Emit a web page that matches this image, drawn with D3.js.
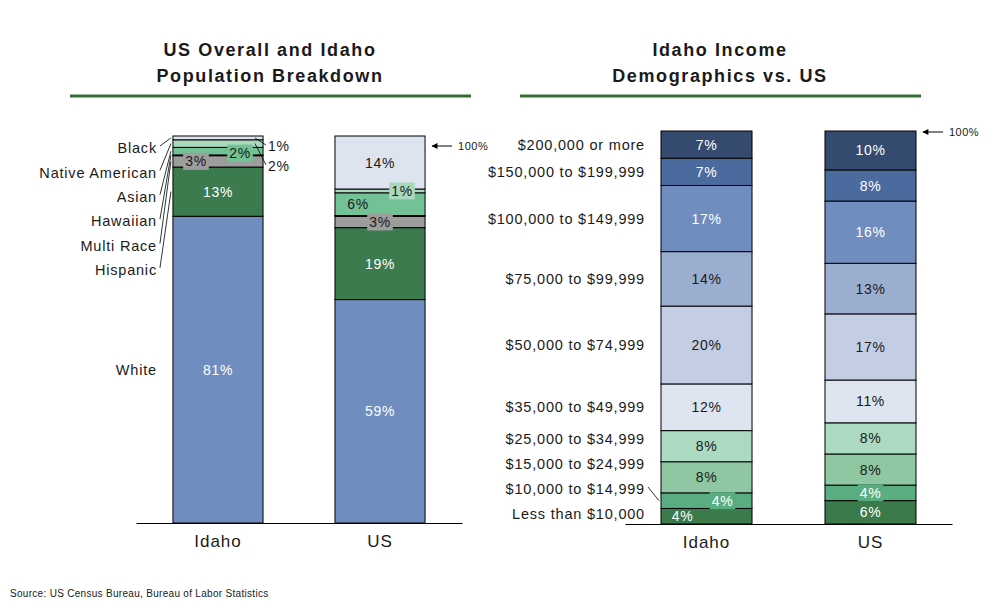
<!DOCTYPE html>
<html>
<head>
<meta charset="utf-8">
<script src="https://cdn.jsdelivr.net/npm/d3@7"></script>
<style>
    body { margin: 0; background: #ffffff; }
    text { font-family: Arial, "Liberation Sans", sans-serif; fill: #1a1a1a; }
</style>
</head>
<body>
<script>

// canvas size
var canvasX = 1008;
var canvasY = 610;

// population breakdown, stack order from the bottom up
var raceGroups = ["Idaho", "US"];
var raceCats = ["White", "Hispanic", "Multi Race", "Hawaiian", "Asian", "Native American", "Black"];
var raceIdaho = [81, 13, 3, 0.2, 2, 2, 1];
var raceUS = [59, 19, 3, 0.2, 6, 1, 14];
var raceColors = ["#6f8ebf", "#3b7b4e", "#9d9d9d", "#111111", "#72c296", "#a9d8be", "#dee4ef"];
var raceText = ["#ffffff", "#ffffff", "#1a1a1a", "#1a1a1a", "#1a1a1a", "#1a1a1a", "#1a1a1a"];

// income demographics, stack order from the bottom up
var incomeGroups = ["Idaho", "US"];
var incomeCats = ["Less than $10,000", "$10,000 to $14,999", "$15,000 to $24,999",
                  "$25,000 to $34,999", "$35,000 to $49,999", "$50,000 to $74,999",
                  "$75,000 to $99,999", "$100,000 to $149,999", "$150,000 to $199,999",
                  "$200,000 or more"];
var incomeIdaho = [4, 4, 8, 8, 12, 20, 14, 17, 7, 7];
var incomeUS = [6, 4, 8, 8, 11, 17, 13, 16, 8, 10];
var incomeColors = ["#3b7a4a", "#5aad81", "#8ec7a1", "#acd9c1", "#dfe5f0",
                    "#c3cee4", "#9caecf", "#6f8ebf", "#4b6b9f", "#344a6e"];
var incomeText = ["#ffffff", "#ffffff", "#1a1a1a", "#1a1a1a", "#1a1a1a",
                  "#1a1a1a", "#1a1a1a", "#ffffff", "#ffffff", "#ffffff"];

var sourceText = "Source: US Census Bureau, Bureau of Labor Statistics";


window.onload = function() {

    var svg = d3.select("body")
                .append("svg")
                .attr("width", canvasX)
                .attr("height", canvasY);

    // arrow head for the 100% markers
    svg.append("defs")
       .append("marker")
       .attr("id", "arrow")
       .attr("viewBox", "0 0 10 10")
       .attr("refX", 9)
       .attr("refY", 5)
       .attr("markerWidth", 7)
       .attr("markerHeight", 6)
       .attr("markerUnits", "userSpaceOnUse")
       .attr("orient", "auto")
       .append("path")
       .attr("d", "M0,0 L10,5 L0,10 Z")
       .attr("fill", "#000");

    // left chart
    drawChart(svg, {
        title: ["US Overall and Idaho", "Population Breakdown"],
        titleX: 270,
        rule: [70, 471],
        groups: raceGroups,
        cats: raceCats,
        values: [raceIdaho, raceUS],
        colors: raceColors,
        textColors: raceText,
        xRange: [136, 462],
        padInner: 0.444,
        padOuter: 0.228,
        yBottom: 523,
        yTop: 136,
        labelDir: "down",
        labelGap: 24.4,
        markerY: 146,
        tweaks: {
            "Idaho|Multi Race": {dx: -22, box: true},
            "Idaho|Asian": {dx: 22, box: true, dy: 2},
            "Idaho|Native American": {outside: true},
            "Idaho|Black": {outside: true},
            "US|Multi Race": {dx: 0, box: true},
            "US|Asian": {dx: -22},
            "US|Native American": {dx: 22, box: true}
        }
    });

    // right chart
    drawChart(svg, {
        title: ["Idaho Income", "Demographics vs. US"],
        titleX: 720,
        rule: [520, 921],
        groups: incomeGroups,
        cats: incomeCats,
        values: [incomeIdaho, incomeUS],
        colors: incomeColors,
        textColors: incomeText,
        xRange: [625, 952],
        padInner: 0.445,
        padOuter: 0.2195,
        yBottom: 524,
        yTop: 131,
        labelDir: "up",
        labelGap: 25,
        markerY: 132,
        tweaks: {
            "Idaho|$10,000 to $14,999": {dx: 16, box: true},
            "Idaho|Less than $10,000": {dx: -24},
            "US|$10,000 to $14,999": {dx: 0, box: true}
        }
    });

    // source note
    svg.append("text")
       .attr("x", 10)
       .attr("y", 597)
       .style("font-size", "10px")
       .style("letter-spacing", "0.3px")
       .text(sourceText);
};


// function to draw one titled stacked bar chart
function drawChart(svg, cfg) {

    var g = svg.append("g");

    // title in two lines
    g.selectAll(".title")
     .data(cfg.title)
     .enter()
     .append("text")
     .attr("class", "title")
     .attr("x", cfg.titleX)
     .attr("y", function(d, i) { return 56 + i * 26; })
     .attr("text-anchor", "middle")
     .style("font-size", "18px")
     .style("font-weight", "bold")
     .style("letter-spacing", "1.6px")
     .text(function(d) { return d; });

    // green rule under the title
    g.append("line")
     .attr("x1", cfg.rule[0])
     .attr("x2", cfg.rule[1])
     .attr("y1", 96)
     .attr("y2", 96)
     .attr("stroke", "#386d33")
     .attr("stroke-width", 3);

    // scales
    var scaleX = d3.scaleBand()
                   .domain(cfg.groups)
                   .range(cfg.xRange)
                   .paddingInner(cfg.padInner)
                   .paddingOuter(cfg.padOuter);

    var scaleY = d3.scaleLinear()
                   .domain([0, 1])
                   .range([cfg.yBottom, cfg.yTop]);

    // one row per bar, one column per category
    var rows = cfg.groups.map(function(grp, gi) {
        var row = {group: grp};
        cfg.cats.forEach(function(cat, ci) {
            row[cat] = cfg.values[gi][ci];
        });
        return row;
    });

    var series = d3.stack()
                   .keys(cfg.cats)
                   .offset(d3.stackOffsetExpand)(rows);

    // stacked segments
    var layers = g.selectAll(".layer")
                  .data(series)
                  .enter()
                  .append("g")
                  .attr("class", "layer")
                  .attr("fill", function(d, i) { return cfg.colors[i]; });

    layers.selectAll("rect")
          .data(function(d) { return d; })
          .enter()
          .append("rect")
          .attr("x", function(d) { return scaleX(d.data.group); })
          .attr("y", function(d) { return scaleY(d[1]); })
          .attr("width", scaleX.bandwidth())
          .attr("height", function(d) { return scaleY(d[0]) - scaleY(d[1]); })
          .attr("stroke", "#000")
          .attr("stroke-width", 1);

    // x axis with the group names
    var xAxis = d3.axisBottom(scaleX)
                  .tickSize(0)
                  .tickPadding(12);

    var axis = g.append("g")
                .attr("transform", "translate(0," + cfg.yBottom + ")")
                .call(xAxis);

    axis.select(".domain")
        .attr("stroke", "#000")
        .attr("stroke-width", 1.2);

    axis.selectAll("text")
        .style("font-size", "17px")
        .style("letter-spacing", "1px")
        .style("font-family", "Arial, 'Liberation Sans', sans-serif")
        .attr("fill", "#1a1a1a");

    // percentage labels inside and beside the segments
    var items = [];
    series.forEach(function(s, ci) {
        s.forEach(function(d, gi) {
            items.push({cat: cfg.cats[ci], ci: ci, group: cfg.groups[gi], value: cfg.values[gi][ci], d: d});
        });
    });

    var barRight = function(grp) { return scaleX(grp) + scaleX.bandwidth(); };
    var outsideY = cfg.yTop + 10;

    // outside labels go from the top of the bar downwards
    items.slice().reverse().forEach(function(item) {
        if (item.value < 0.5) {
            return;
        }
        var tw = cfg.tweaks[item.group + "|" + item.cat] || {};
        var yTop = scaleY(item.d[1]);
        var yBot = scaleY(item.d[0]);
        var mid = (yTop + yBot) / 2;
        var label = g.append("g");

        if (tw.outside) {
            var right = barRight(item.group);
            label.append("line")
                 .attr("x1", right - 8)
                 .attr("y1", mid)
                 .attr("x2", right + 3)
                 .attr("y2", outsideY - 1)
                 .attr("stroke", "#000")
                 .attr("stroke-width", 0.8);
            label.append("text")
                 .attr("x", right + 5)
                 .attr("y", outsideY)
                 .attr("dy", "0.36em")
                 .style("font-size", "14px")
                 .style("letter-spacing", "0.7px")
                 .text(item.value + "%");
            outsideY += 20;
            return;
        }

        var cx = scaleX(item.group) + scaleX.bandwidth() / 2 + (tw.dx || 0);
        var cy = mid + (tw.dy || 0);

        var rect = label.append("rect");
        var text = label.append("text")
                        .attr("x", cx)
                        .attr("y", cy)
                        .attr("dy", "0.36em")
                        .attr("text-anchor", "middle")
                        .style("font-size", "14px")
                        .style("letter-spacing", "0.7px")
                        .style("fill", cfg.textColors[item.ci])
                        .text(item.value + "%");

        // coloured box behind labels that overlap other segments
        if (tw.box) {
            var w = text.node().getComputedTextLength() + 4;
            rect.attr("x", cx - w / 2)
                .attr("y", cy - 8.5)
                .attr("width", w)
                .attr("height", 17)
                .attr("fill", cfg.colors[item.ci]);
        } else {
            rect.remove();
        }
    });

    // category names beside the first bar, spread so they do not overlap
    var first = series.map(function(s) { return s[0]; });
    var firstX = scaleX(cfg.groups[0]);
    var labelX = firstX - 16;
    var pos = [];

    if (cfg.labelDir == "down") {
        var prev = cfg.yTop + 12 - cfg.labelGap;
        for (var i = cfg.cats.length - 1; i >= 0; i--) {
            var c = (scaleY(first[i][0]) + scaleY(first[i][1])) / 2;
            pos[i] = Math.max(c, prev + cfg.labelGap);
            prev = pos[i];
        }
    } else {
        var prevUp = cfg.yBottom - 10 + cfg.labelGap;
        for (var j = 0; j < cfg.cats.length; j++) {
            var cu = (scaleY(first[j][0]) + scaleY(first[j][1])) / 2;
            pos[j] = Math.min(cu, prevUp - cfg.labelGap);
            prevUp = pos[j];
        }
    }

    cfg.cats.forEach(function(cat, ci) {
        var yTop = scaleY(first[ci][1]);
        var yBot = scaleY(first[ci][0]);

        // leader line when the name sits outside its segment
        if (pos[ci] < yTop - 1 || pos[ci] > yBot + 1) {
            g.append("line")
             .attr("x1", labelX + 3)
             .attr("y1", pos[ci] - 2)
             .attr("x2", firstX - 2)
             .attr("y2", (yTop + yBot) / 2)
             .attr("stroke", "#000")
             .attr("stroke-width", 0.8);
        }

        g.append("text")
         .attr("x", labelX)
         .attr("y", pos[ci])
         .attr("dy", "0.36em")
         .attr("text-anchor", "end")
         .style("font-size", "14.5px")
         .style("letter-spacing", "0.8px")
         .text(cat);
    });

    // arrow marking the 100% top
    var markX = barRight(cfg.groups[cfg.groups.length - 1]) + 7;

    g.append("line")
     .attr("x1", markX + 20)
     .attr("x2", markX)
     .attr("y1", cfg.markerY)
     .attr("y2", cfg.markerY)
     .attr("stroke", "#000")
     .attr("stroke-width", 1)
     .attr("marker-end", "url(#arrow)");

    g.append("text")
     .attr("x", markX + 26)
     .attr("y", cfg.markerY)
     .attr("dy", "0.36em")
     .style("font-size", "11px")
     .style("letter-spacing", "0.5px")
     .text("100%");
}

</script>
</body>
</html>
